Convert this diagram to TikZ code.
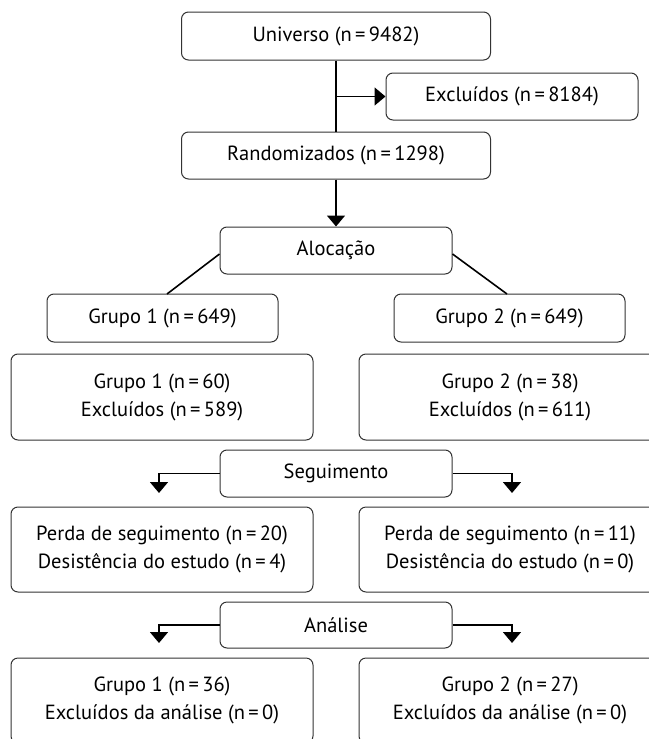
\documentclass[tikz,border=0pt]{standalone}
\usepackage{fontspec}
\setmainfont{PT Sans}
\usetikzlibrary{positioning,arrows.meta}

\newcommand\ncount[1]{(n\,=\,#1)}

\begin{document}
\begin{tikzpicture}[x=1pt,y=-1pt,
  box/.style={draw=black!80, line width=1pt, rounded corners=7pt, align=center,
    inner sep=0pt, font=\fontsize{20.5}{28}\selectfont},
  link/.style={line width=1.6pt},
  arr/.style={link, -{Triangle[width=18pt,length=11pt]}}]

\useasboundingbox (0,0) rectangle (648,739);

\def\xm{336}
\def\xl{162}
\def\xr{510}

\node[box, minimum width=309, minimum height=48] (univ) at (\xm, 36) {Universo \ncount{9482}};
\node[box, minimum width=252, minimum height=47] (excl) at (512, 96.5) {Excluídos \ncount{8184}};
\node[box, minimum width=309, minimum height=47] (rand) at (\xm, 155.5) {Randomizados \ncount{1298}};
\node[box, minimum width=232, minimum height=47] (aloc) at (\xm, 250.5) {Alocação};

\node[box, minimum width=231, minimum height=48] (g1) at (162.5, 318) {Grupo 1 \ncount{649}};
\node[box, minimum width=231, minimum height=48] (g2) at (509.5, 318) {Grupo 2 \ncount{649}};

\node[box, minimum width=302, minimum height=86] (g1b) at (\xl, 397) {Grupo 1 \ncount{60}\\Excluídos \ncount{589}};
\node[box, minimum width=302, minimum height=86] (g2b) at (\xr, 397) {Grupo 2 \ncount{38}\\Excluídos \ncount{611}};

\node[box, minimum width=232, minimum height=47] (seg) at (\xm, 473.5) {Seguimento};

\node[box, minimum width=302, minimum height=85] (p1) at (\xl, 549.5) {Perda de seguimento \ncount{20}\\Desistência do estudo \ncount{4}};
\node[box, minimum width=302, minimum height=85] (p2) at (\xr, 549.5) {Perda de seguimento \ncount{11}\\Desistência do estudo \ncount{0}};

\node[box, minimum width=232, minimum height=46] (anal) at (\xm, 625) {Análise};

\node[box, minimum width=302, minimum height=85] (r1) at (\xl, 700.5) {Grupo 1 \ncount{36}\\Excluídos da análise \ncount{0}};
\node[box, minimum width=302, minimum height=85] (r2) at (\xr, 700.5) {Grupo 2 \ncount{27}\\Excluídos da análise \ncount{0}};

\coordinate (split) at (\xm, 96.5);
\coordinate (s1) at (159, 493);
\coordinate (s2) at (512, 493);
\coordinate (a1) at (159, 643);
\coordinate (a2) at (512, 643);

\draw[link] (univ) -- (rand);
\draw[arr] (split) -- (excl);
\draw[arr] (rand) -- (aloc);
\draw[link] (aloc.west |- 0,254) -- (167, 294);
\draw[link] (aloc.east |- 0,254) -- (507, 294);
\draw[arr] (seg.west) -| (s1);
\draw[arr] (seg.east) -| (s2);
\draw[arr] (anal.west) -| (a1);
\draw[arr] (anal.east) -| (a2);

\end{tikzpicture}
\end{document}
